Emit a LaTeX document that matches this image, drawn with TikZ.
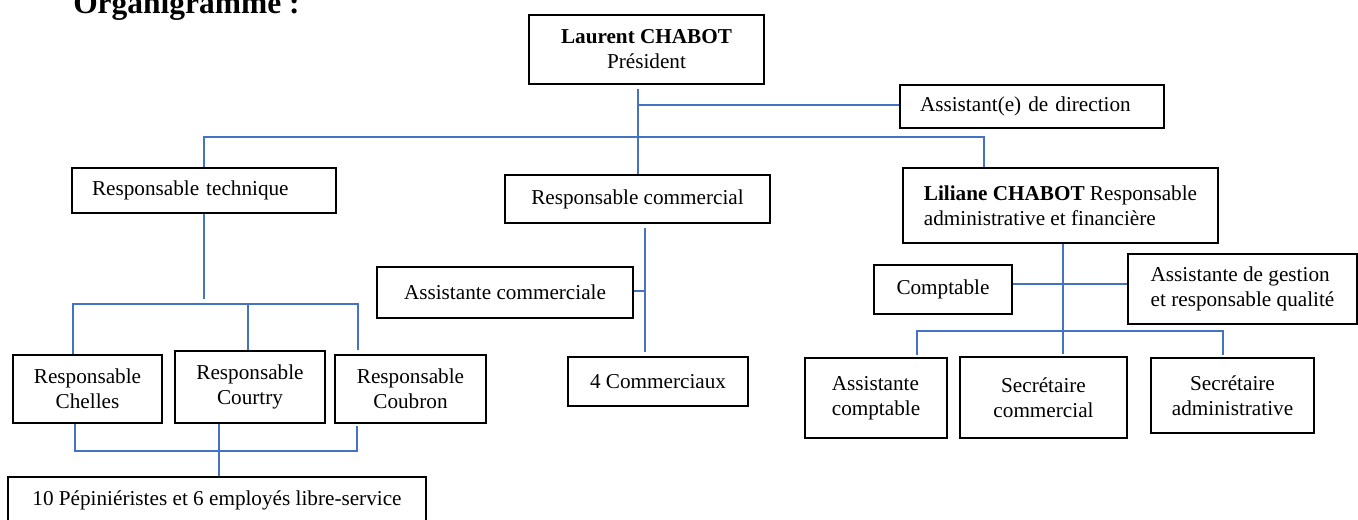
\documentclass[tikz,border=0pt]{standalone}
\usepackage{fontspec}
\setmainfont{Liberation Serif}
\definecolor{lblue}{HTML}{4472C4}
\tikzset{
  box/.style={draw, line width=1.1pt, inner sep=0pt, align=center, font=\fontsize{15.9}{18.75}\selectfont},
  lbox/.style={box, align=left},
  wh/.style 2 args={minimum width=#1*0.75pt, minimum height=#2*0.75pt},
  conn/.style={draw=lblue, line width=0.9pt},
}
\begin{document}
\begin{tikzpicture}[x=0.75pt,y=-0.75pt]
\useasboundingbox (0,0) rectangle (1358,520);
% title
\node[anchor=base west, inner sep=0pt, font=\fontsize{23.6}{28}\selectfont\bfseries] (title) at (73,14) {Organigramme :};
% boxes
\node[box, wh={235}{69}] (pres) at (646.5,49.5) {\textbf{Laurent CHABOT}\\Président};
\node[box, wh={264}{43}, text width=168pt, align=left] (adir) at (1032,106.5) {Assistant(e) de direction};
\node[box, wh={264}{45}, text width=168pt, align=left] (rtech) at (204,190.5) {Responsable technique};
\node[box, wh={265}{48}] (rcom) at (637.5,199) {Responsable commercial};
\node[lbox, wh={315}{75}] (lil) at (1060.5,205.5) {\textbf{Liliane CHABOT} Responsable\\administrative et financière};
\node[box, wh={256}{51}] (acom) at (505,292.5) {Assistante commerciale};
\node[box, wh={180}{49}] (com4) at (658,381.5) {4 Commerciaux};
\node[box, wh={138}{49}] (compt) at (943,289.5) {Comptable};
\node[lbox, wh={229}{70}] (agest) at (1242.5,289) {Assistante de gestion\\et responsable qualité};
\node[box, wh={149}{68}] (chel) at (87.5,389) {Responsable\\Chelles};
\node[box, wh={150}{72}] (cour) at (250,387) {Responsable\\Courtry};
\node[box, wh={151}{68}] (coub) at (410.5,389) {Responsable\\Coubron};
\node[box, wh={418}{47}] (pep) at (217,500.5) {10 Pépiniéristes et 6 employés libre-service};
\node[lbox, wh={142}{80}] (acpt) at (876,398) {Assistante\\comptable};
\node[box, wh={167}{81}] (scom) at (1043.5,397.5) {Secrétaire\\commercial};
\node[box, wh={163}{75}] (sadm) at (1232.5,395.5) {Secrétaire\\administrative};
% junctions
\coordinate (jp) at (638,105);
\coordinate (jm) at (638,137);
\coordinate (jr) at (984,137);
\coordinate (ta) at (73,304);
\coordinate (tb) at (358,304);
\coordinate (tc) at (248,304);
\coordinate (ba) at (75,451);
\coordinate (bb) at (357,451);
\coordinate (bc) at (219,451);
\coordinate (jc) at (645,291);
\coordinate (jv) at (1063,284);
\coordinate (la) at (917,331);
\coordinate (lb) at (1223,331);
% connectors
\draw[conn] ([yshift=-3pt]pres.south -| jm) -- (jm);
\draw[conn] (jp) -- (adir.west |- jp);
\draw[conn] (rtech.north) -- (rtech.north |- jm) -- (jr) -- (lil.north -| jr);
\draw[conn] (jm) -- (rcom.north -| jm);
\draw[conn] (rtech.south) -- ([yshift=3.75pt]rtech.south |- ta);
\draw[conn] (chel.north -| ta) -- (ta) -- (tb) -- ([yshift=3pt]coub.north -| tb);
\draw[conn] (tc) -- (cour.north -| tc);
\draw[conn] (chel.south -| ba) -- (ba) -- (bb) -- ([yshift=-1.5pt]coub.south -| bb);
\draw[conn] (cour.south -| bc) -- (pep.north -| bc);
\draw[conn] ([yshift=-3pt]rcom.south -| jc) -- ([yshift=3pt]com4.north -| jc);
\draw[conn] (acom.east |- jc) -- (jc);
\draw[conn] (lil.south -| jv) -- ([yshift=1.5pt]scom.north -| jv);
\draw[conn] (compt.east |- jv) -- (agest.west |- jv);
\draw[conn] ([yshift=2pt]acpt.north -| la) -- (la) -- (lb) -- ([yshift=2pt]sadm.north -| lb);
\end{tikzpicture}
\end{document}
